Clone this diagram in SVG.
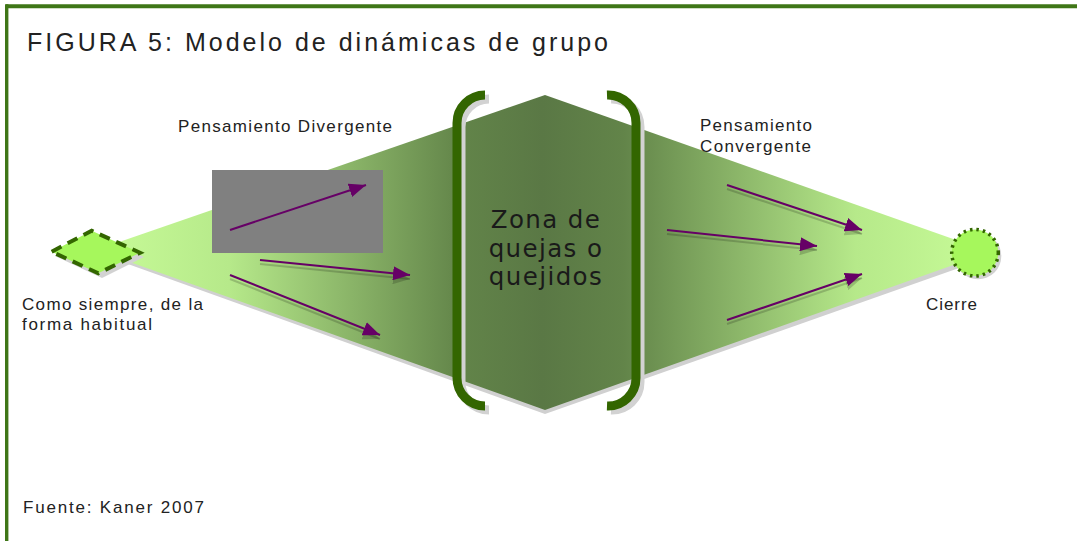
<svg xmlns="http://www.w3.org/2000/svg" width="1077" height="541" viewBox="0 0 1077 541">
<defs>
<style>
.lbl{font-family:"Liberation Sans",Arial,sans-serif;fill:#222;}
.zone{font-family:"DejaVu Sans","Liberation Sans",sans-serif;fill:#1a1a1a;font-size:24.5px;letter-spacing:1.4px;}
.arr{stroke:#660066;stroke-width:2;fill:none;marker-end:url(#ah);}
.arrs{stroke:#000;stroke-opacity:0.18;stroke-width:2;fill:none;marker-end:url(#ahs);}
.brk{fill:none;stroke:#336600;stroke-width:9;}
.brks{fill:none;stroke:#d2d2d2;stroke-width:9;}
</style>
<linearGradient id="g" gradientUnits="userSpaceOnUse" x1="95" y1="0" x2="990" y2="0">
<stop offset="0" stop-color="#c8fc98"/>
<stop offset="0.15" stop-color="#b6e98a"/>
<stop offset="0.41" stop-color="#628449"/>
<stop offset="0.5" stop-color="#5a7845"/>
<stop offset="0.59" stop-color="#628449"/>
<stop offset="0.85" stop-color="#b6e98a"/>
<stop offset="1" stop-color="#c8fc98"/>
</linearGradient>
<marker id="ah" markerUnits="userSpaceOnUse" markerWidth="18" markerHeight="14" refX="17" refY="7" orient="auto">
<path d="M0,0 L17,7 L0,14 z" fill="#660066"/>
</marker>
<marker id="ahs" markerUnits="userSpaceOnUse" markerWidth="18" markerHeight="14" refX="17" refY="7" orient="auto">
<path d="M0,0 L17,7 L0,14 z" fill="#000" fill-opacity="0.18"/>
</marker>
</defs>
<rect width="1077" height="541" fill="#fff"/>
<g id="frame">
<line x1="6" y1="6.3" x2="1077" y2="6.3" stroke="#3f7617" stroke-width="4"/>
<line x1="6.7" y1="4.3" x2="6.7" y2="541" stroke="#3f7617" stroke-width="3.4"/>
</g>
<g id="title"><text class="lbl" x="27" y="51" font-size="25" textLength="581" lengthAdjust="spacing">FIGURA 5: Modelo de dinámicas de grupo</text></g>
<g id="process">
<polygon points="100,254 545,99 993,256 545,414" fill="#d0d0d0"/>
<polygon points="96,250 545,95 990,252 545,410" fill="url(#g)"/>
</g>
<g id="gray-box"><rect x="212" y="170" width="171" height="83" fill="#808080"/></g>
<g id="zona">
<path class="brks" d="M489,99 A28,28 0 0 0 461,127 L461,382 A28,28 0 0 0 489,410"/>
<path class="brks" d="M611,99 A28,28 0 0 1 640,127 L640,382 A28,28 0 0 1 611,410"/>
<path class="brk" d="M485,95 A28,28 0 0 0 457,123 L457,378 A28,28 0 0 0 485,406"/>
<path class="brk" d="M607,95 A28,28 0 0 1 636,123 L636,378 A28,28 0 0 1 607,406"/>
<text class="zone" text-anchor="middle"><tspan x="546" y="228">Zona de</tspan><tspan x="546" y="257">quejas o</tspan><tspan x="546" y="285">quejidos</tspan></text>
</g>
<g id="start">
<polygon points="55,256 95,235 144,257 102,278" fill="#d2d2d2"/>
<polygon points="51.7,251.7 91.7,230.7 140,252.7 98.3,273.3" fill="#a6f75c" stroke="#336600" stroke-width="4" stroke-dasharray="11,7"/>
<text class="lbl" font-size="17"><tspan x="22" y="310" textLength="181" lengthAdjust="spacing">Como siempre, de la</tspan><tspan x="22" y="330" textLength="130" lengthAdjust="spacing">forma habitual</tspan></text>
</g>
<g id="end">
<circle cx="978" cy="256" r="23.3" fill="#d2d2d2"/>
<circle cx="975" cy="252.7" r="23.3" fill="#a6f75c" stroke="#336600" stroke-width="3.5" stroke-dasharray="2.5,4"/>
<text class="lbl" x="926" y="310" font-size="17" textLength="51" lengthAdjust="spacing">Cierre</text>
</g>
<g id="divergent-label"><text class="lbl" x="178" y="132" font-size="17" textLength="214" lengthAdjust="spacing">Pensamiento Divergente</text></g>
<g id="convergent-label"><text class="lbl" font-size="17"><tspan x="700" y="131" textLength="112" lengthAdjust="spacing">Pensamiento</tspan><tspan x="700" y="152" textLength="111" lengthAdjust="spacing">Convergente</tspan></text></g>
<g id="connectors">
<line class="arrs" x1="260" y1="264" x2="410" y2="279"/>
<line class="arrs" x1="230" y1="279" x2="380" y2="339"/>
<line class="arrs" x1="727" y1="189" x2="862" y2="234"/>
<line class="arrs" x1="667" y1="234" x2="817" y2="250"/>
<line class="arrs" x1="727" y1="324" x2="862" y2="278"/>
<line class="arr" x1="230" y1="230" x2="366" y2="185"/>
<line class="arr" x1="260" y1="260" x2="410" y2="275"/>
<line class="arr" x1="230" y1="275" x2="380" y2="335"/>
<line class="arr" x1="727" y1="185" x2="862" y2="230"/>
<line class="arr" x1="667" y1="230" x2="817" y2="246"/>
<line class="arr" x1="727" y1="320" x2="862" y2="274"/>
</g>
<g id="source"><text class="lbl" x="23" y="513" font-size="17" textLength="181" lengthAdjust="spacing">Fuente: Kaner 2007</text></g>
</svg>
